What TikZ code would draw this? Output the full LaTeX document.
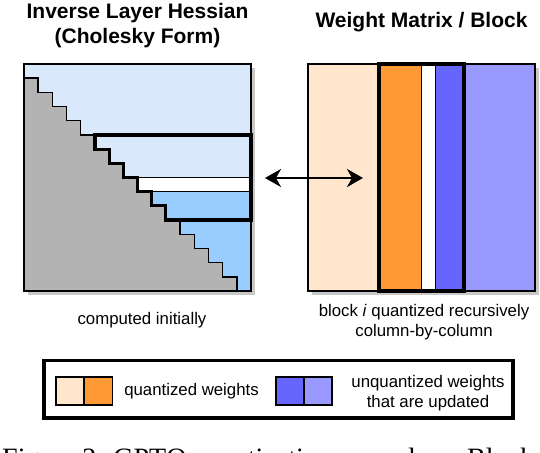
\documentclass[tikz,border=0pt]{standalone}
\usepackage{fontspec}
\setmainfont{Liberation Sans}
\newfontfamily\capfont{Liberation Serif}
\usetikzlibrary{arrows.meta}
\definecolor{hesslight}{HTML}{DAE8FC}
\definecolor{hessmid}{HTML}{99CCFF}
\definecolor{hessgray}{HTML}{B3B3B3}
\definecolor{quantlight}{HTML}{FFE6CC}
\definecolor{quantdark}{HTML}{FF9933}
\definecolor{updark}{HTML}{6666FF}
\definecolor{uplight}{HTML}{9999FF}
\definecolor{shadowgray}{HTML}{C8C8C8}

\begin{document}
\begin{tikzpicture}[x=1pt,y=-1pt,
  ttl/.style={font=\fontsize{21}{25}\selectfont\bfseries,align=center},
  lbl/.style={font=\fontsize{16.8}{20.5}\selectfont,align=center},
  cell/.style={draw=black,line width=1.4pt},
  blk/.style={draw=black,line width=3.2pt},
  shade/.style={fill=shadowgray},
  swap/.style={line width=2.2pt,>={Stealth[length=16pt,width=18pt,inset=5pt]},<->}]
\useasboundingbox (0,0) rectangle (540,452);

\node[ttl] (hesstitle) at (137.5,26) {Inverse Layer Hessian\\(Cholesky Form)};
\node[ttl] (wttitle) at (421.5,22) {Weight Matrix / Block};

\begin{scope}[shift={(24,64)},x=14.1875pt,y=-14.1875pt]
\fill[shade] (0.25,0.25) rectangle (16.25,16.25);
\fill[hesslight] (0,0) rectangle (16,8);
\fill[white] (0,8) rectangle (16,9);
\fill[hessmid] (0,9) rectangle (16,16);
\draw[cell] (8,8) -- (16,8);
\draw[cell] (8,9) -- (16,9);
\draw[cell,fill=hessgray] (0,1) -| (1,2) -| (2,3) -| (3,4) -| (4,5) -| (5,6) -| (6,7) -| (7,8)
  -| (8,9) -| (9,10) -| (10,11) -| (11,12) -| (12,13) -| (13,14) -| (14,15) -| (15,16) -- (0,16) -- cycle;
\draw[cell] (0,0) rectangle (16,16);
\draw[blk] (5,5) -- (16,5) -- (16,11) -- (10,11) |- (9,10) |- (8,9) |- (7,8) |- (6,7) |- (5,6) -- cycle;
\end{scope}

\begin{scope}[shift={(308,64)},x=14.1875pt,y=-14.1875pt]
\fill[shade] (0.25,0.25) rectangle (16.25,16.25);
\draw[cell,fill=quantlight] (0,0) rectangle (5,16);
\draw[cell,fill=quantdark] (5,0) rectangle (8,16);
\draw[cell,fill=white] (8,0) rectangle (9,16);
\draw[cell,fill=updark] (9,0) rectangle (11,16);
\draw[cell,fill=uplight] (11,0) rectangle (16,16);
\draw[blk] (5,0) rectangle (11,16);
\end{scope}

\coordinate (hessside) at (265,178);
\coordinate (wtside) at (363,178);
\draw[swap] (hessside) -- (wtside);

\node[lbl] (hesscap) at (142,320) {computed initially};
\node[lbl,font=\fontsize{16.8}{20}\selectfont] (wtcap) at (424,321.7) {block \textit{i} quantized recursively\\column-by-column};

\draw[blk] (44,360.5) rectangle (513,418);
\draw[cell,fill=quantlight] (56,377) rectangle (84,405);
\draw[cell,fill=quantdark] (84,377) rectangle (112.5,405);
\node[lbl] (quantkey) at (191.5,391) {quantized weights};
\draw[cell,fill=updark] (276,377) rectangle (304,405);
\draw[cell,fill=uplight] (304,377) rectangle (332,405);
\node[lbl,font=\fontsize{16.8}{20}\selectfont] (updkey) at (428,393.3) {unquantized weights\\that are updated};

\node[anchor=base west,inner sep=0pt,font=\capfont\fontsize{28}{30}\selectfont] (figcap) at (2,467) {Figure 2: GPTQ quantization procedure. Blocks};
\end{tikzpicture}
\end{document}
